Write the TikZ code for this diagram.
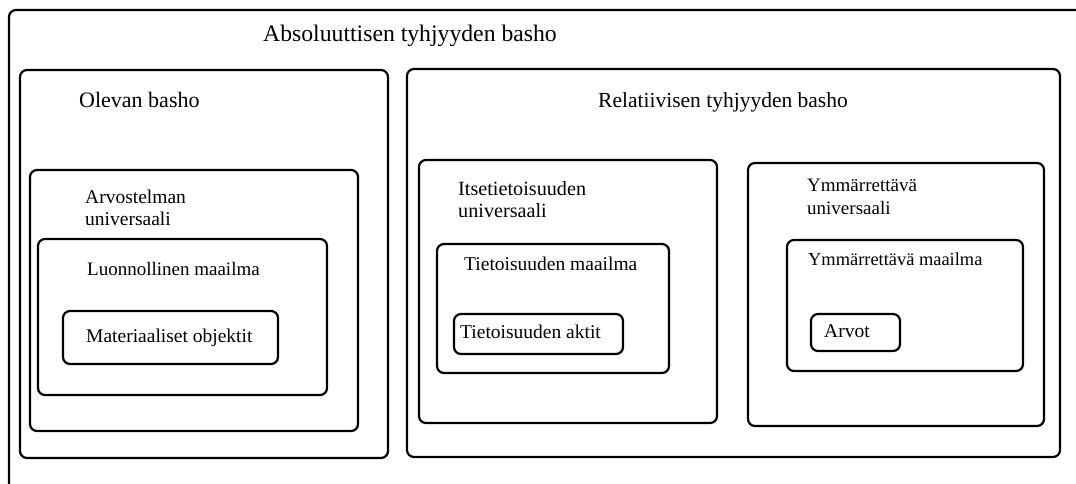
\documentclass[tikz,border=0pt]{standalone}
\usepackage{fontspec}
\setmainfont{Liberation Serif}
\usetikzlibrary{fit}
\begin{document}
\begin{tikzpicture}[x=1pt,y=-1pt,
  box/.style={draw=black, line width=2.2pt, rounded corners=7pt, inner sep=0pt, rectangle},
  head/.style={anchor=base west, inner sep=0pt, font=\fontsize{22}{26}\selectfont},
  lbl/.style={anchor=base west, inner sep=0pt, align=left, font=\fontsize{19.5}{22}\selectfont}]
\useasboundingbox (0,0) rectangle (1076,483);
\clip (0,0) rectangle (1076,483);
% boxes
\node[box, fit={(9,10) (1110,520)}] (abs) {};
\node[box, fit={(20,70) (388,458)}] (olevan) {};
\node[box, fit={(30,170) (358,431)}] (arvo) {};
\node[box, fit={(38,239) (327,395)}] (luonn) {};
\node[box, fit={(63,311) (278,364)}] (mater) {};
\node[box, fit={(407,69) (1060,457)}] (relat) {};
\node[box, fit={(419,160) (717,423)}] (itse) {};
\node[box, fit={(437,244) (669,373)}] (tiet) {};
\node[box, fit={(454,314) (623,354)}] (aktit) {};
\node[box, fit={(748,163) (1044,426)}] (ymm) {};
\node[box, fit={(787,240) (1023,371)}] (ymmm) {};
\node[box, fit={(811,314) (900,351)}] (arvot) {};
% texts
\node[head, font=\fontsize{23.7}{28}\selectfont] (tabs) at (263,41) {Absoluuttisen tyhjyyden basho};
\node[head] (tolevan) at (79,107) {Olevan basho};
\node[head, font=\fontsize{21.5}{26}\selectfont] (trelat) at (598,107) {Relatiivisen tyhjyyden basho};
\node[lbl] (tarvo) at (85,225) {Arvostelman\\universaali};
\node[lbl, font=\fontsize{19}{22}\selectfont] (tluonn) at (87,275) {Luonnollinen maailma};
\node[lbl] (tmater) at (86,342) {Materiaaliset objektit};
\node[lbl, font=\fontsize{20.2}{22}\selectfont] (titse) at (458,217) {Itsetietoisuuden\\universaali};
\node[lbl] (ttiet) at (464,270) {Tietoisuuden maailma};
\node[lbl] (taktit) at (460,338) {Tietoisuuden aktit};
\node[lbl, font=\fontsize{19}{23}\selectfont] (tymm) at (807,214) {Ymmärrettävä\\universaali};
\node[lbl, font=\fontsize{18.4}{22}\selectfont] (tymmm) at (808,265) {Ymmärrettävä maailma};
\node[lbl] (tarvot) at (824,337) {Arvot};
\end{tikzpicture}
\end{document}
